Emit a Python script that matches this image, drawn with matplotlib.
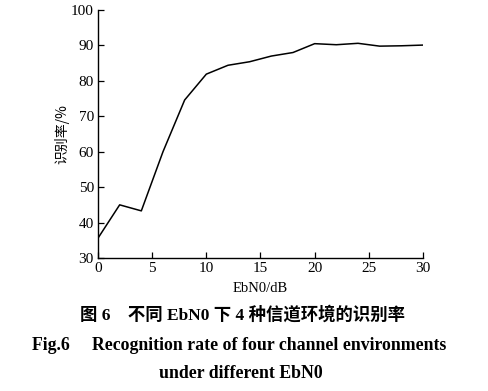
import matplotlib
matplotlib.use("Agg")
import matplotlib.pyplot as plt

# EbN0 (dB) vs recognition rate (%)
ebn0 = [0, 2, 4, 6, 8, 10, 12, 14, 16, 18, 20, 22, 24, 26, 28, 30]
rate = [35.6, 45.0, 43.3, 60.0, 74.6, 81.9, 84.4, 85.4, 87.0, 88.0,
        90.5, 90.2, 90.6, 89.8, 89.9, 90.1]
xticks = [0, 5, 10, 15, 20, 25, 30]
yticks = [30, 40, 50, 60, 70, 80, 90, 100]

serif = ['Liberation Serif', 'Noto Sans CJK SC']
plt.rcParams['font.family'] = serif

fig = plt.figure(figsize=(4.88, 3.91), dpi=100)
ax = fig.add_axes([0.2008, 0.3402, 0.666, 0.6342])

ax.plot(ebn0, rate, color='black', linewidth=1.1)
ax.set_xlim(0, 30)
ax.set_ylim(30, 100)
ax.set_xticks(xticks)
ax.set_yticks(yticks)
ax.tick_params(direction='in', length=4, width=0.9, labelsize=11, pad=3)
for s in ['top', 'right']:
    ax.spines[s].set_visible(False)
for s in ['left', 'bottom']:
    ax.spines[s].set_linewidth(1.0)

ax.set_xlabel('EbN0/dB', fontsize=10.5, labelpad=5)
fig.text(0.127, 0.657, '识别率/%', rotation=90, ha='center', va='center',
         fontsize=10, family=['Noto Sans CJK SC', 'Liberation Serif'])

fig.text(0.496, 1 - 315 / 391, '图 6　不同 EbN0 下 4 种信道环境的识别率', ha='center', va='center',
         fontsize=12.5, fontweight='bold', family=serif)
fig.text(0.49, 1 - 346 / 391, 'Fig.6　 Recognition rate of four channel environments',
         ha='center', va='center', fontsize=12.8, fontweight='bold', family=serif)
fig.text(0.494, 1 - 374 / 391, 'under different EbN0', ha='center', va='center',
         fontsize=12.8, fontweight='bold', family=serif)

fig.savefig('out.png', dpi=100)
